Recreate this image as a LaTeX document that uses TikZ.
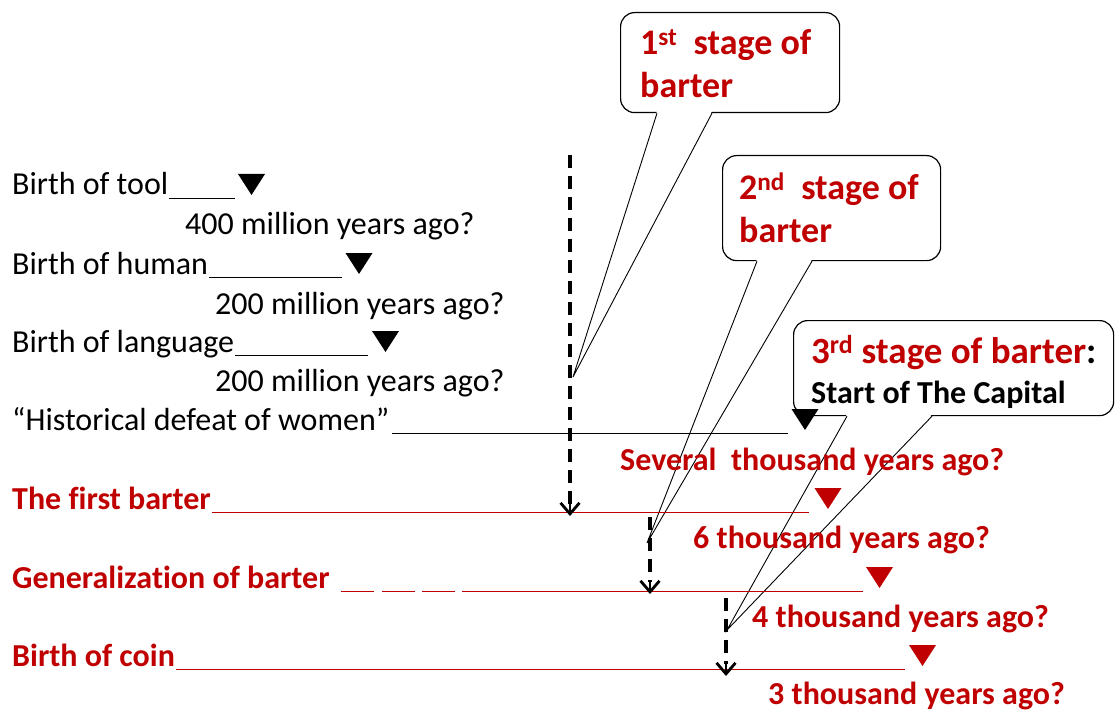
\documentclass[tikz,border=0pt]{standalone}
\usepackage{fontspec}
\setmainfont{Carlito}[Ligatures=NoCommon]
\usetikzlibrary{arrows.meta,calc}
\definecolor{dred}{RGB}{192,0,0}
\begin{document}
\begin{tikzpicture}[x=1pt,y=-1pt,
  txt/.style={anchor=base west, inner sep=0pt, font=\fontsize{32}{38}\selectfont},
  rtxt/.style={anchor=base west, inner sep=0pt, text=dred, font=\fontsize{32}{38}\selectfont\bfseries},
  ctxt/.style={anchor=base west, inner sep=0pt, text=dred, font=\fontsize{36}{43}\selectfont\bfseries},
  bline/.style={line width=1.3pt},
  rline/.style={line width=1.3pt, dred},
  cbox/.style={draw, line width=1.2pt, rounded corners=14pt, fill=white, anchor=north west, inner sep=0pt},
  wedge/.style={line width=0.9pt},
  darr/.style={line width=3.5pt, dash pattern=on 13pt off 8pt},
  dtip/.style={line width=2.8pt, -{Straight Barb[length=11pt,width=19pt,line width=2.8pt]}},
  tri/.pic={\fill (0,0) -- (-13.5,-21) -- (13.5,-21) -- cycle;}
]
\useasboundingbox (0,0) rectangle (1115,711);

% callout boxes
\node[cbox, minimum width=219pt, minimum height=100pt] (c1) at (620,12) {};
\node[cbox, minimum width=218pt, minimum height=105pt] (c2) at (722,155) {};
\node[cbox, minimum width=320pt, minimum height=95pt] (c3) at (793,320) {};

\coordinate (t1) at (573,377);
\coordinate (t2) at (647,543);
\coordinate (t3) at (727,630);

\fill[white] ($(c1.south west)+(37,-2)$) -- (t1) -- ($(c1.south west)+(92,-2)$) -- cycle;
\draw[wedge] ($(c1.south west)+(37,0)$) -- (t1) -- ($(c1.south west)+(92,0)$);
\fill[white] ($(c2.south west)+(35,-2)$) -- (t2) -- ($(c2.south west)+(90,-2)$) -- cycle;
\draw[wedge] ($(c2.south west)+(35,0)$) -- (t2) -- ($(c2.south west)+(90,0)$);
\fill[white] ($(c3.south west)+(54,-2)$) -- (t3) -- ($(c3.south west)+(139,-2)$) -- cycle;
\draw[wedge] ($(c3.south west)+(54,0)$) -- (t3) -- ($(c3.south west)+(139,0)$);

% callout texts
\node[ctxt] (c1a) at (640,55) {1\textsuperscript{st}\ \ stage of};
\node[ctxt] (c1b) at (640,98) {barter};
\node[ctxt] (c2a) at (739,200) {2\textsuperscript{nd}\ \ stage of};
\node[ctxt] (c2b) at (739,242) {barter};
\node[ctxt, font=\fontsize{37}{43}\selectfont\bfseries] (c3a) at (811,363) {3\textsuperscript{rd} stage of barter\textcolor{black}{:}};
\node[rtxt, text=black] (c3b) at (811,403) {Start of The Capital};

% timeline texts
\node[txt] (tool) at (12,195) {Birth of tool};
\node[txt] (toolT) at (185,235) {400 million years ago?};
\node[txt] (human) at (12,274) {Birth of human};
\node[txt] (humanT) at (215,314) {200 million years ago?};
\node[txt] (lang) at (12,352) {Birth of language};
\node[txt] (langT) at (215,391) {200 million years ago?};
\node[txt] (hist) at (12,430) {“Historical defeat of women”};
\node[rtxt] (histT) at (620,470) {Several\ \ thousand years ago?};
\node[rtxt] (fb) at (12,509) {The first barter};
\node[rtxt] (fbT) at (693,548) {6 thousand years ago?};
\node[rtxt] (gen) at (12,588) {Generalization of barter};
\node[rtxt] (genT) at (752,627) {4 thousand years ago?};
\node[rtxt] (coin) at (12,666) {Birth of coin};
\node[rtxt] (coinT) at (768,704) {3 thousand years ago?};

% underlines
\draw[bline] (tool.base east) ++(1,3.5) -- (235,198.5);
\draw[bline] (human.base east) ++(1,3.5) -- (342,277.5);
\draw[bline] (lang.base east) ++(1,3.5) -- (368,355.5);
\draw[bline] (hist.base east) ++(2,3.5) -- (788,433.5);
\draw[rline] (fb.base east) ++(1,3.5) -- (809,512.5);
\draw[rline] (341,591.5) -- (374,591.5) (382,591.5) -- (415,591.5) (422,591.5) -- (455,591.5) (462,591.5) -- (863,591.5);
\draw[rline] (coin.base east) ++(1,3.5) -- (905,669.5);

% triangles
\pic[black] at (251.5,195) {tri};
\pic[black] at (359,274) {tri};
\pic[black] at (385.5,352) {tri};
\pic[black] at (805,430) {tri};
\pic[dred] at (828,509) {tri};
\pic[dred] at (879.5,588) {tri};
\pic[dred] at (922.5,666) {tri};

% dashed arrows
\coordinate (a1s) at (570,155);
\coordinate (a1e) at (570,516);
\coordinate (a2s) at (650,517);
\coordinate (a2e) at (650,594);
\coordinate (a3s) at (726,598);
\coordinate (a3e) at (726,676);
\draw[darr] (a1s) -- ($(a1e)+(0,-12)$);
\draw[dtip] ($(a1e)+(0,-14)$) -- (a1e);
\draw[darr] (a2s) -- ($(a2e)+(0,-12)$);
\draw[dtip] ($(a2e)+(0,-14)$) -- (a2e);
\draw[darr] (a3s) -- ($(a3e)+(0,-12)$);
\draw[dtip] ($(a3e)+(0,-14)$) -- (a3e);
\end{tikzpicture}
\end{document}
